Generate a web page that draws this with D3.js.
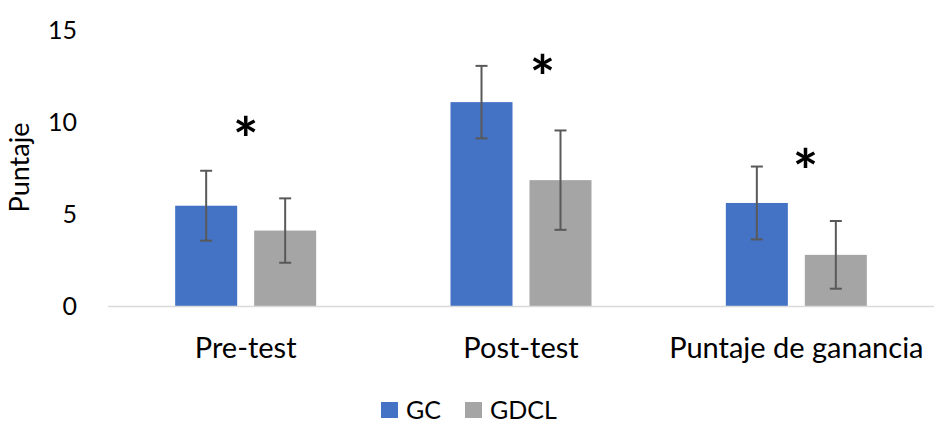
<!DOCTYPE html>
<html>
<head>
<meta charset="utf-8">
<script src="https://cdn.jsdelivr.net/npm/d3@7"></script>
<style>
  body { margin: 0; background: #fff; }
  svg { display: block; font-family: Lato, "Open Sans", sans-serif; }
</style>
</head>
<body>
<div id="chart"></div>
<script>
(function () {
  'use strict';

  var categories = ['Pre-test', 'Post-test', 'Puntaje de ganancia'];
  var seriesNames = ['GC', 'GDCL'];
  var gcValues = [5.45, 11.08, 5.6];
  var gcErrors = [1.9, 1.97, 1.98];
  var gdclValues = [4.1, 6.84, 2.78];
  var gdclErrors = [1.75, 2.7, 1.84];
  var yTicks = [0, 5, 10, 15];
  // asterisk: centre height in score units, horizontal shift as fraction of the band
  var starValues = [9.82, 13.2, 8.07];
  var starShift = [0.0, 0.078, 0.033];

  var colors = { GC: '#4472C4', GDCL: '#A5A5A5' };

  var width = 934, height = 424;
  var margin = { top: 30, right: 0, bottom: 118, left: 108 };

  var svg = d3.select('#chart').append('svg')
    .attr('width', width)
    .attr('height', height);

  var x = d3.scaleBand()
    .domain(categories)
    .range([margin.left, width - margin.right]);

  var x1 = d3.scaleBand()
    .domain(seriesNames)
    .range([0, 141])
    .paddingInner(0.215);

  var y = d3.scaleLinear()
    .domain([0, 15])
    .range([height - margin.bottom, margin.top]);

  var rows = categories.map(function (c, i) {
    return {
      category: c,
      items: [
        { name: 'GC', value: gcValues[i], err: gcErrors[i] },
        { name: 'GDCL', value: gdclValues[i], err: gdclErrors[i] }
      ]
    };
  });

  // y tick labels
  svg.append('g').selectAll('text')
    .data(yTicks)
    .enter()
    .append('text')
    .attr('x', 77)
    .attr('y', function (d) { return y(d); })
    .attr('dy', '0.35em')
    .attr('text-anchor', 'end')
    .style('font-size', '25px')
    .style('fill', '#000')
    .text(function (d) { return d; });

  // axis title
  svg.append('text')
    .attr('transform', 'translate(29,' + 167.5 + ') rotate(-90)')
    .attr('text-anchor', 'middle')
    .style('font-size', '27px')
    .text('Puntaje');

  var groups = svg.append('g').selectAll('g')
    .data(rows)
    .enter()
    .append('g')
    .attr('transform', function (d) {
      return 'translate(' + (x(d.category) + (x.bandwidth() - 141) / 2) + ',0)';
    });

  groups.selectAll('rect')
    .data(function (d) { return d.items; })
    .enter()
    .append('rect')
    .attr('x', function (d) { return x1(d.name); })
    .attr('y', function (d) { return y(d.value); })
    .attr('width', x1.bandwidth())
    .attr('height', function (d) { return y(0) - y(d.value); })
    .style('fill', function (d) { return colors[d.name]; });

  // baseline
  svg.append('line')
    .attr('x1', x.range()[0])
    .attr('x2', x.range()[1])
    .attr('y1', y(0) + 0.5)
    .attr('y2', y(0) + 0.5)
    .style('stroke', '#D9D9D9')
    .style('stroke-width', 1.5);

  // error bars
  var errs = groups.selectAll('g.err')
    .data(function (d) { return d.items; })
    .enter()
    .append('g')
    .classed('err', true)
    .attr('transform', function (d) {
      return 'translate(' + (x1(d.name) + x1.bandwidth() / 2) + ',0)';
    })
    .style('stroke', '#595959')
    .style('stroke-width', 2);

  errs.append('line')
    .attr('y1', function (d) { return y(d.value + d.err); })
    .attr('y2', function (d) { return y(d.value - d.err); });

  errs.append('line')
    .attr('x1', -6).attr('x2', 6)
    .attr('y1', function (d) { return y(d.value + d.err); })
    .attr('y2', function (d) { return y(d.value + d.err); });

  errs.append('line')
    .attr('x1', -6).attr('x2', 6)
    .attr('y1', function (d) { return y(d.value - d.err); })
    .attr('y2', function (d) { return y(d.value - d.err); });

  // significance asterisks
  svg.append('g').selectAll('text')
    .data(categories)
    .enter()
    .append('text')
    .attr('x', function (d, i) { return x(d) + x.bandwidth() * (0.5 + starShift[i]); })
    .attr('y', function (d, i) { return y(starValues[i]); })
    .attr('dy', '0.59em')
    .attr('text-anchor', 'middle')
    .style('font-size', '60px')
    .style('font-weight', 'bold')
    .text('*');

  // category labels
  svg.append('g').selectAll('text')
    .data(categories)
    .enter()
    .append('text')
    .attr('x', function (d) { return x(d) + x.bandwidth() / 2; })
    .attr('y', 358)
    .attr('text-anchor', 'middle')
    .style('font-size', '29px')
    .text(function (d) { return d; });

  // legend
  var legend = svg.append('g').selectAll('g')
    .data(seriesNames)
    .enter()
    .append('g')
    .attr('transform', function (d, i) { return 'translate(' + (381 + i * 84) + ',402)'; });

  legend.append('rect')
    .attr('width', 17)
    .attr('height', 16)
    .style('fill', function (d) { return colors[d]; });

  legend.append('text')
    .attr('x', 25)
    .attr('y', 17)
    .style('font-size', '25px')
    .text(function (d) { return d; });
}());
</script>
</body>
</html>
